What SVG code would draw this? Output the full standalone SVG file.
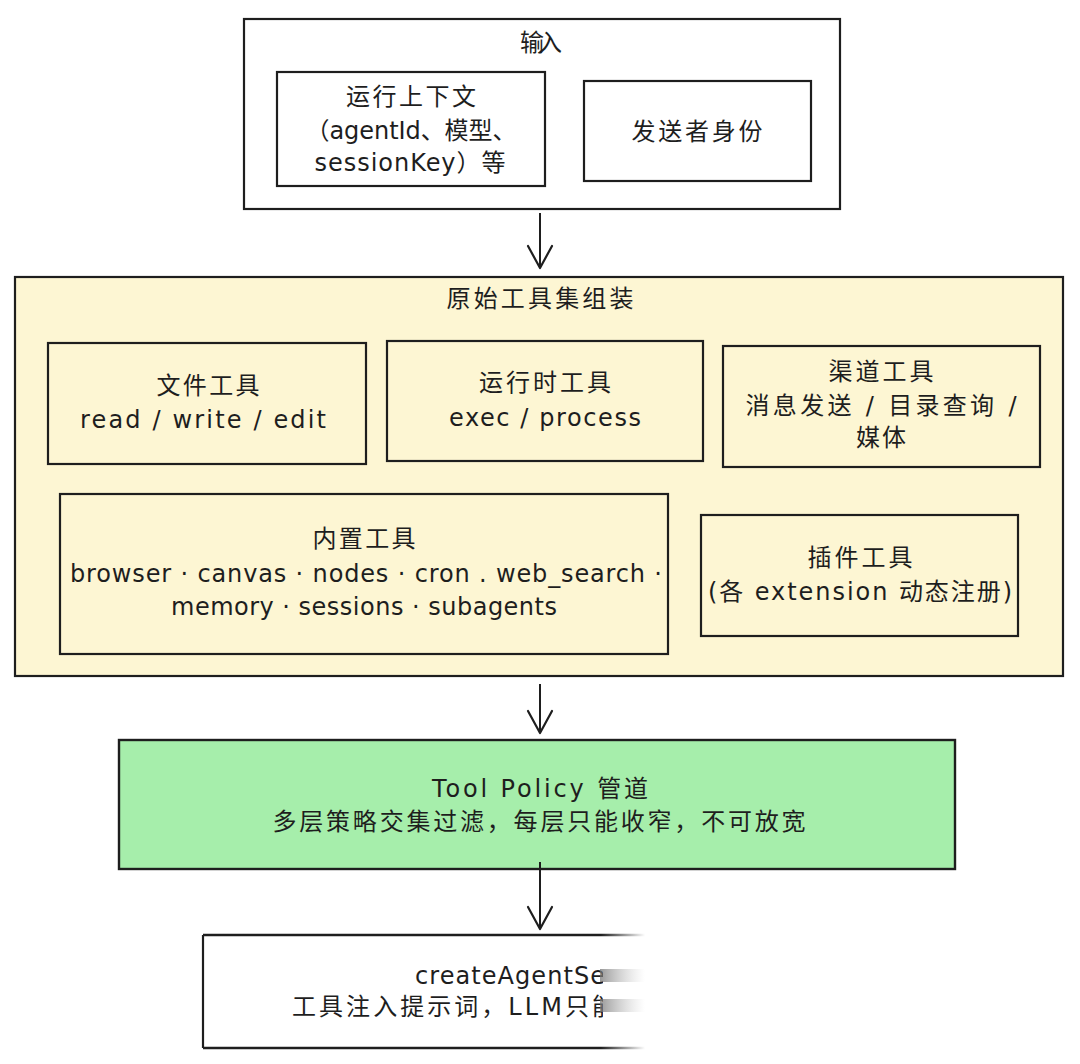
<svg xmlns="http://www.w3.org/2000/svg" width="1080" height="1064" viewBox="0 0 1080 1064">
<style>
.box{fill:none;stroke:#1e1e1e;stroke-width:2.2}
.wbox{fill:#ffffff;stroke:#1e1e1e;stroke-width:2.2}
.ybox{fill:#fdf6d3;stroke:#1e1e1e;stroke-width:2.2}
.gbox{fill:#a6eeab;stroke:#1e1e1e;stroke-width:2.4}
.t{font-family:"DejaVu Sans","Noto Sans CJK SC",sans-serif;font-size:24px;fill:#1e1e1e;text-anchor:middle}
.ts{text-anchor:start}
.conn{stroke:#1e1e1e;stroke-width:2;fill:none}
</style>
<defs>
<marker id="arr" viewBox="0 0 26 28" refX="24" refY="14" markerWidth="26" markerHeight="28" markerUnits="userSpaceOnUse" orient="auto">
<path d="M2 2 L24 14 L2 26" fill="none" stroke="#1e1e1e" stroke-width="2.2" stroke-linecap="round" stroke-linejoin="round"/>
</marker>
<linearGradient id="fadeLine" gradientUnits="userSpaceOnUse" x1="203" y1="0" x2="645" y2="0">
<stop offset="0" stop-color="#1e1e1e"/>
<stop offset="0.9" stop-color="#1e1e1e"/>
<stop offset="1" stop-color="#1e1e1e" stop-opacity="0"/>
</linearGradient>
<linearGradient id="smudge" x1="0" y1="0" x2="1" y2="0">
<stop offset="0" stop-color="#777" stop-opacity="0.75"/>
<stop offset="1" stop-color="#bbb" stop-opacity="0"/>
</linearGradient>
<clipPath id="cut"><rect x="0" y="900" width="603" height="164"/></clipPath>
</defs>
<rect width="1080" height="1064" fill="#ffffff"/>

<g id="input">
<rect class="wbox" x="244" y="19" width="596" height="190"/>
<text class="t" x="541" y="51" textLength="42">输入</text>
<g id="run-context">
<rect class="box" x="277" y="72" width="268" height="114"/>
<text class="t" x="411" y="105" textLength="130">运行上下文</text>
<text class="t" x="411" y="139" textLength="211">（agentId、模型、</text>
<text class="t" x="410" y="171" textLength="191">sessionKey）等</text>
</g>
<g id="sender">
<rect class="box" x="584" y="81" width="227" height="100"/>
<text class="t" x="697" y="140" textLength="131">发送者身份</text>
</g>
</g>

<g id="assembly">
<rect class="ybox" x="15" y="277" width="1048" height="399"/>
<text class="t" x="540" y="307" textLength="187">原始工具集组装</text>
<g id="file-tools">
<rect class="box" x="48" y="343" width="318" height="121"/>
<text class="t" x="208" y="394" textLength="103">文件工具</text>
<text class="t" x="203" y="428" textLength="246">read / write / edit</text>
</g>
<g id="runtime-tools">
<rect class="box" x="387" y="341" width="316" height="120"/>
<text class="t" x="545" y="391" textLength="132">运行时工具</text>
<text class="t" x="545" y="426" textLength="192">exec / process</text>
</g>
<g id="channel-tools">
<rect class="box" x="723" y="346" width="317" height="121"/>
<text class="t" x="881" y="380" textLength="105">渠道工具</text>
<text class="t" x="881" y="414" textLength="271">消息发送 / 目录查询 /</text>
<text class="t" x="881" y="446" textLength="50">媒体</text>
</g>
<g id="builtin-tools">
<rect class="box" x="60" y="494" width="608" height="160"/>
<text class="t" x="364" y="547" textLength="103">内置工具</text>
<text class="t" x="366" y="582" textLength="592">browser · canvas · nodes · cron . web_search ·</text>
<text class="t" x="364" y="615" textLength="386">memory · sessions · subagents</text>
</g>
<g id="plugin-tools">
<rect class="box" x="701" y="515" width="317" height="121"/>
<text class="t" x="860" y="566" textLength="105">插件工具</text>
<text class="t" x="860" y="600" textLength="304">(各 extension 动态注册)</text>
</g>
</g>

<g id="policy">
<rect class="gbox" x="119" y="740" width="836" height="129"/>
<text class="t" x="540" y="797" textLength="216">Tool Policy 管道</text>
<text class="t" x="539" y="830" textLength="533">多层策略交集过滤，每层只能收窄，不可放宽</text>
</g>

<g id="create-session">
<path d="M203 935 L645 935" stroke="url(#fadeLine)" stroke-width="2.4" fill="none"/>
<path d="M203 1048 L645 1048" stroke="url(#fadeLine)" stroke-width="2.4" fill="none"/>
<path d="M203 935 L203 1048" class="box"/>
<g clip-path="url(#cut)">
<text class="t ts" x="415" y="984" textLength="190">createAgentSe</text>
<text class="t ts" x="292" y="1015" textLength="324">工具注入提示词，LLM只能</text>
</g>
<rect x="600" y="969" width="45" height="13" fill="url(#smudge)"/>
<rect x="600" y="999" width="45" height="13" fill="url(#smudge)"/>
</g>

<g id="connectors">
<path class="conn" d="M540 213 L540 268" marker-end="url(#arr)"/>
<path class="conn" d="M540 684 L540 733" marker-end="url(#arr)"/>
<path class="conn" d="M540 862 L540 929" marker-end="url(#arr)"/>
</g>
</svg>
